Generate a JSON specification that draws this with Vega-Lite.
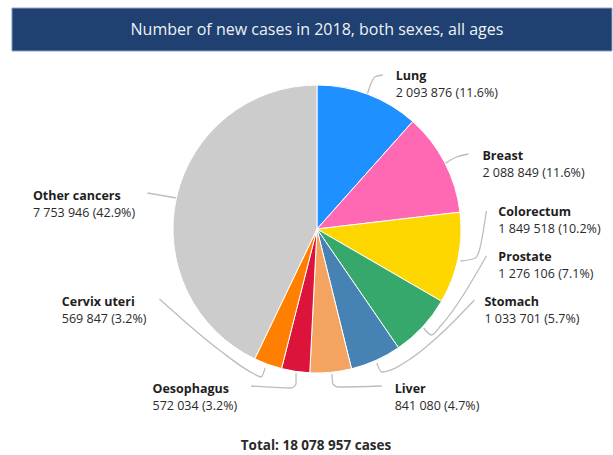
{
  "$schema": "https://vega.github.io/schema/vega-lite/v6.json",
  "width": 613,
  "height": 455,
  "padding": 0,
  "autosize": {"type": "fit", "contains": "padding"},
  "background": "white",
  "config": {"view": {"stroke": null}, "font": "Open Sans"},
  "datasets": {
    "cases": [
      {"idx": 1, "name": "Lung", "cases": 2093876, "label": "2 093 876 (11.6%)"},
      {"idx": 2, "name": "Breast", "cases": 2088849, "label": "2 088 849 (11.6%)"},
      {"idx": 3, "name": "Colorectum", "cases": 1849518, "label": "1 849 518 (10.2%)"},
      {"idx": 4, "name": "Prostate", "cases": 1276106, "label": "1 276 106 (7.1%)"},
      {"idx": 5, "name": "Stomach", "cases": 1033701, "label": "1 033 701 (5.7%)"},
      {"idx": 6, "name": "Liver", "cases": 841080, "label": "841 080 (4.7%)"},
      {"idx": 7, "name": "Oesophagus", "cases": 572034, "label": "572 034 (3.2%)"},
      {"idx": 8, "name": "Cervix uteri", "cases": 569847, "label": "569 847 (3.2%)"},
      {"idx": 9, "name": "Other cancers", "cases": 7753946, "label": "7 753 946 (42.9%)"}
    ],
    "labelLayout": [
      {"name": "Lung", "lx": 397, "ly": 76},
      {"name": "Breast", "lx": 484, "ly": 156},
      {"name": "Colorectum", "lx": 500, "ly": 212},
      {"name": "Prostate", "lx": 500, "ly": 257},
      {"name": "Stomach", "lx": 486, "ly": 302},
      {"name": "Liver", "lx": 396, "ly": 389},
      {"name": "Oesophagus", "lx": 153, "ly": 389},
      {"name": "Cervix uteri", "lx": 62, "ly": 302},
      {"name": "Other cancers", "lx": 33, "ly": 196}
    ],
    "leaders": [
      {"leader": "Lung", "k": 1, "px": 368, "py": 96},
      {"leader": "Lung", "k": 2, "px": 372, "py": 84},
      {"leader": "Lung", "k": 3, "px": 376, "py": 77},
      {"leader": "Lung", "k": 4, "px": 384, "py": 75},
      {"leader": "Breast", "k": 1, "px": 446, "py": 164},
      {"leader": "Breast", "k": 2, "px": 458, "py": 157},
      {"leader": "Breast", "k": 3, "px": 470, "py": 154},
      {"leader": "Colorectum", "k": 1, "px": 462, "py": 261},
      {"leader": "Colorectum", "k": 2, "px": 477, "py": 258},
      {"leader": "Colorectum", "k": 3, "px": 481, "py": 250},
      {"leader": "Colorectum", "k": 4, "px": 488, "py": 211},
      {"leader": "Prostate", "k": 1, "px": 425, "py": 328},
      {"leader": "Prostate", "k": 2, "px": 433, "py": 335},
      {"leader": "Prostate", "k": 3, "px": 442, "py": 326},
      {"leader": "Prostate", "k": 4, "px": 488, "py": 256},
      {"leader": "Stomach", "k": 1, "px": 378, "py": 363},
      {"leader": "Stomach", "k": 2, "px": 383, "py": 372},
      {"leader": "Stomach", "k": 3, "px": 410, "py": 360},
      {"leader": "Stomach", "k": 4, "px": 440, "py": 336},
      {"leader": "Stomach", "k": 5, "px": 476, "py": 300},
      {"leader": "Liver", "k": 1, "px": 333, "py": 374},
      {"leader": "Liver", "k": 2, "px": 334, "py": 384},
      {"leader": "Liver", "k": 3, "px": 339, "py": 387},
      {"leader": "Liver", "k": 4, "px": 383, "py": 386},
      {"leader": "Oesophagus", "k": 1, "px": 297, "py": 373},
      {"leader": "Oesophagus", "k": 2, "px": 297, "py": 384},
      {"leader": "Oesophagus", "k": 3, "px": 292, "py": 388},
      {"leader": "Oesophagus", "k": 4, "px": 252, "py": 386},
      {"leader": "Cervix uteri", "k": 1, "px": 160, "py": 299},
      {"leader": "Cervix uteri", "k": 2, "px": 220, "py": 350},
      {"leader": "Cervix uteri", "k": 3, "px": 255, "py": 374},
      {"leader": "Cervix uteri", "k": 4, "px": 262, "py": 377},
      {"leader": "Cervix uteri", "k": 5, "px": 266, "py": 368},
      {"leader": "Other cancers", "k": 1, "px": 148, "py": 193},
      {"leader": "Other cancers", "k": 2, "px": 177, "py": 198}
    ]
  },
  "layer": [
    {
      "data": {"values": [{}]},
      "mark": {"type": "rect", "fill": "#1f4070", "stroke": "#8ea3c0", "strokeWidth": 1},
      "encoding": {
        "x": {"datum": 12, "type": "quantitative", "scale": {"domain": [0, 613], "nice": false, "zero": false}, "axis": null},
        "x2": {"datum": 614},
        "y": {"datum": 8, "type": "quantitative", "scale": {"domain": [0, 455], "nice": false, "zero": false, "reverse": true}, "axis": null},
        "y2": {"datum": 51}
      }
    },
    {
      "data": {"values": [{"t": "Number of new cases in 2018, both sexes, all ages"}]},
      "mark": {"type": "text", "font": "Open Sans", "fontSize": 16, "color": "#eef2f7", "align": "center", "baseline": "middle"},
      "encoding": {
        "text": {"field": "t"},
        "x": {"datum": 318, "type": "quantitative", "scale": {"domain": [0, 613], "nice": false, "zero": false}, "axis": null},
        "y": {"datum": 30, "type": "quantitative", "scale": {"domain": [0, 455], "nice": false, "zero": false, "reverse": true}, "axis": null}
      }
    },
    {
      "data": {"name": "leaders"},
      "mark": {"type": "line", "color": "#bdbdbd", "strokeWidth": 1.3, "interpolate": "monotone"},
      "encoding": {
        "x": {"field": "px", "type": "quantitative", "scale": {"domain": [0, 613], "nice": false, "zero": false}, "axis": null},
        "y": {"field": "py", "type": "quantitative", "scale": {"domain": [0, 455], "nice": false, "zero": false, "reverse": true}, "axis": null},
        "detail": {"field": "leader"},
        "order": {"field": "k", "type": "quantitative"}
      }
    },
    {
      "data": {"name": "cases"},
      "mark": {"type": "arc", "outerRadius": 144, "stroke": "white", "strokeWidth": 1},
      "encoding": {
        "theta": {"field": "cases", "type": "quantitative", "stack": true},
        "order": {"field": "idx", "type": "quantitative"},
        "color": {
          "field": "name",
          "type": "nominal",
          "legend": null,
          "scale": {
            "domain": ["Lung", "Breast", "Colorectum", "Prostate", "Stomach", "Liver", "Oesophagus", "Cervix uteri", "Other cancers"],
            "range": ["#1e90ff", "#ff69b4", "#ffd700", "#36a86c", "#4682b4", "#f4a460", "#dc143c", "#ff7f00", "#cccccc"]
          }
        },
        "x": {"datum": 318, "type": "quantitative", "scale": {"domain": [0, 613], "nice": false, "zero": false}, "axis": null},
        "y": {"datum": 229, "type": "quantitative", "scale": {"domain": [0, 455], "nice": false, "zero": false, "reverse": true}, "axis": null}
      }
    },
    {
      "data": {"name": "cases"},
      "transform": [{"lookup": "name", "from": {"data": {"name": "labelLayout"}, "key": "name", "fields": ["lx", "ly"]}}],
      "mark": {"type": "text", "font": "Open Sans", "fontSize": 12.5, "fontWeight": "bold", "color": "#1e1e1e", "align": "left", "baseline": "middle"},
      "encoding": {
        "text": {"field": "name"},
        "x": {"field": "lx", "type": "quantitative", "scale": {"domain": [0, 613], "nice": false, "zero": false}, "axis": null},
        "y": {"field": "ly", "type": "quantitative", "scale": {"domain": [0, 455], "nice": false, "zero": false, "reverse": true}, "axis": null}
      }
    },
    {
      "data": {"name": "cases"},
      "transform": [{"lookup": "name", "from": {"data": {"name": "labelLayout"}, "key": "name", "fields": ["lx", "ly"]}}],
      "mark": {"type": "text", "font": "Open Sans", "fontSize": 12.5, "color": "#2a2a2a", "align": "left", "baseline": "middle", "dy": 17},
      "encoding": {
        "text": {"field": "label"},
        "x": {"field": "lx", "type": "quantitative", "scale": {"domain": [0, 613], "nice": false, "zero": false}, "axis": null},
        "y": {"field": "ly", "type": "quantitative", "scale": {"domain": [0, 455], "nice": false, "zero": false, "reverse": true}, "axis": null}
      }
    },
    {
      "data": {"values": [{"t": "Total: 18 078 957 cases"}]},
      "mark": {"type": "text", "font": "Open Sans", "fontSize": 13.5, "fontWeight": "bold", "color": "#2a2a2a", "align": "center", "baseline": "middle"},
      "encoding": {
        "text": {"field": "t"},
        "x": {"datum": 317, "type": "quantitative", "scale": {"domain": [0, 613], "nice": false, "zero": false}, "axis": null},
        "y": {"datum": 446, "type": "quantitative", "scale": {"domain": [0, 455], "nice": false, "zero": false, "reverse": true}, "axis": null}
      }
    }
  ]
}
